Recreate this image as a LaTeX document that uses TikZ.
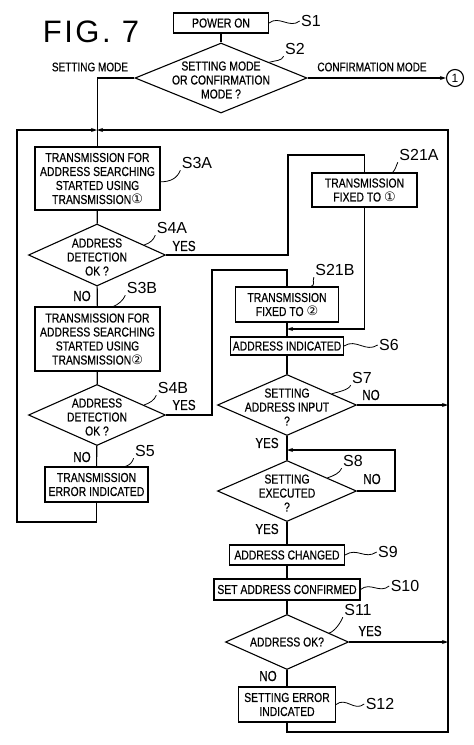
\documentclass[tikz,border=0pt]{standalone}
\usepackage{fontspec}
\setmainfont{Liberation Sans}
\newfontfamily\boxfont[FakeStretch=0.8,FakeBold=0.4]{Liberation Sans}
\newfontfamily\figfont[LetterSpace=8]{Liberation Sans}
\newfontfamily\circfont{DejaVu Sans}
\usetikzlibrary{shapes.geometric,arrows.meta,calc}

\newcommand{\cnum}[1]{{\circfont\fontsize{13}{13}\selectfont #1}}

\tikzset{
  box/.style={draw,rectangle,align=center,inner sep=0pt,
    font=\boxfont\fontsize{13}{14}\selectfont},
  decision/.style={draw,diamond,inner sep=0pt},
  txt/.style={align=center,inner sep=0pt,font=\boxfont\fontsize{13}{14}\selectfont},
  lbl/.style={inner sep=1pt,font=\fontsize{16}{16}\selectfont},
  yesno/.style={inner sep=0pt,font=\boxfont\fontsize{14.5}{15}\selectfont},
  leader/.style={line width=0.8pt},
  arr/.style={-{Stealth[length=6pt,width=4pt]}},
}

\begin{document}
\begin{tikzpicture}[x=1pt,y=-1pt,line width=1.1pt]
\useasboundingbox (0,0) rectangle (474,745);

\node[font=\figfont\fontsize{31}{31}\selectfont] (fig) at (91,32) {FIG. 7};

% process steps
\begin{scope}[every node/.style={box}]
  \node[minimum width=95,minimum height=20]  (s1)   at (221,23)    {POWER ON};
  \node[minimum width=125,minimum height=63] (s3a)  at (97.5,178.5)
    {TRANSMISSION FOR\\ADDRESS SEARCHING\\STARTED USING\\TRANSMISSION\cnum{①}};
  \node[minimum width=125,minimum height=64] (s3b)  at (97.5,339)
    {TRANSMISSION FOR\\ADDRESS SEARCHING\\STARTED USING\\TRANSMISSION\cnum{②}};
  \node[minimum width=103,minimum height=35] (s5)   at (96.5,484.5) {TRANSMISSION\\ERROR INDICATED};
  \node[minimum width=105,minimum height=34] (s21a) at (364.5,190)  {TRANSMISSION\\FIXED TO \cnum{①}};
  \node[minimum width=103,minimum height=35] (s21b) at (287,304.5)  {TRANSMISSION\\FIXED TO \cnum{②}};
  \node[minimum width=113,minimum height=18] (s6)   at (287,346)    {ADDRESS INDICATED};
  \node[minimum width=115,minimum height=20] (s9)   at (287,555)    {ADDRESS CHANGED};
  \node[minimum width=146,minimum height=21] (s10)  at (287,589.5)  {SET ADDRESS CONFIRMED};
  \node[minimum width=97,minimum height=35]  (s12)  at (287,704.5)  {SETTING ERROR\\INDICATED};
\end{scope}

% decisions
\begin{scope}[every node/.style={decision}]
  \node[minimum width=172,minimum height=70] (s2)  at (221,78)  {};
  \node[minimum width=137,minimum height=62] (s4a) at (97,255)  {};
  \node[minimum width=137,minimum height=61] (s4b) at (97,415)  {};
  \node[minimum width=139,minimum height=61] (s7)  at (287,405) {};
  \node[minimum width=139,minimum height=61] (s8)  at (287,491) {};
  \node[minimum width=123,minimum height=55] (s11) at (287,642) {};
\end{scope}

\begin{scope}[every node/.style={txt}]
  \node (s2t)  at (221,80)  {SETTING MODE\\OR CONFIRMATION\\MODE ?};
  \node (s4at) at (97,257)  {ADDRESS\\DETECTION\\OK ?};
  \node (s4bt) at (97,417)  {ADDRESS\\DETECTION\\OK ?};
  \node (s7t)  at (287,407) {SETTING\\ADDRESS INPUT\\?};
  \node (s8t)  at (287,493) {SETTING\\EXECUTED\\?};
  \node (s11t) at (287,642) {ADDRESS OK?};
\end{scope}

\node[draw,circle,minimum size=17,inner sep=0pt,font=\fontsize{12}{12}\selectfont] (c1) at (455,78) {1};

% step labels
\begin{scope}[every node/.style={lbl}]
  \node (s1lbl)   at (311,21)  {S1};
  \node (s2lbl)   at (295,49)  {S2};
  \node (s3albl)  at (197,163) {S3A};
  \node (s4albl)  at (172,228) {S4A};
  \node (s21albl) at (419,155) {S21A};
  \node (s3blbl)  at (142,288) {S3B};
  \node (s21blbl) at (335,270) {S21B};
  \node (s6lbl)   at (389,345) {S6};
  \node (s4blbl)  at (173,388) {S4B};
  \node (s7lbl)   at (362,378) {S7};
  \node (s5lbl)   at (145,451) {S5};
  \node (s8lbl)   at (353,461) {S8};
  \node (s9lbl)   at (388,552) {S9};
  \node (s10lbl)  at (405,586) {S10};
  \node (s11lbl)  at (358,610) {S11};
  \node (s12lbl)  at (380,704) {S12};
\end{scope}

\begin{scope}[every node/.style={yesno}]
  \node[font=\boxfont\fontsize{12.5}{13}\selectfont] (setmode)  at (90,67)  {SETTING MODE};
  \node[font=\boxfont\fontsize{12.5}{13}\selectfont] (confmode) at (372,67) {CONFIRMATION MODE};
  \node (yes4a) at (184,246) {YES};
  \node (no4a)  at (82,296)  {NO};
  \node (yes4b) at (184,405) {YES};
  \node (no4b)  at (82,457)  {NO};
  \node (no7)   at (371,395) {NO};
  \node (yes7)  at (267,443) {YES};
  \node (no8)   at (372,479) {NO};
  \node (yes8)  at (267,529) {YES};
  \node (yes11) at (370,631) {YES};
  \node (no11)  at (268,676) {NO};
\end{scope}

% corners of the return loops
\coordinate (top) at (97,130);
\coordinate (lb)  at (17,522);
\coordinate (rb)  at (448,732);
\coordinate (ya)  at (288,155);
\coordinate (yb)  at (212,270);
\coordinate (j6)  at (287,329);
\coordinate (n8)  at (395,450);
\coordinate (j8)  at (287,450);

% main flow
\draw (s1) -- (s2);
\draw (s2.west) -| (s3a.north);
\draw[arr] (s2.east) -- (c1);
\draw (s3a) -- (s4a);
\draw (s4a) -- (s3b);
\draw (s3b) -- (s4b);
\draw (s4b) -- (s5);
\draw (s4a.east) -| (ya) -| (s21a.north);
\draw (s4b.east) -| (yb) -| (s21b.north);
\draw[arr] (s21a.south) |- (j6);
\draw (s21b) -- (s6);
\draw (s6) -- (s7);
\draw (s7) -- (s8);
\draw (s8) -- (s9);
\draw (s9) -- (s10);
\draw (s10) -- (s11);
\draw (s11) -- (s12);
\draw[arr] (s8.east) -| (n8) -- (j8);
\draw[arr] (s7.east) -- (s7.east -| rb);
\draw[arr] (s11.east) -- (s11.east -| rb);
\draw[arr] (s5.south) |- (lb) |- (top);
\draw[arr] (s12.south) |- (rb) |- (top);

% leaders to the step labels
\begin{scope}[leader]
  \draw (s1.east) .. controls +(10,-8) and +(-10,8) .. (s1lbl.west);
  \draw (s6.east) .. controls +(12,-8) and +(-12,8) .. (s6lbl.west);
  \draw (s9.east) .. controls +(12,-8) and +(-12,8) .. (s9lbl.west);
  \draw (s10.east) .. controls +(10,-8) and +(-10,8) .. (s10lbl.west);
  \draw (s12.east) .. controls +(10,-8) and +(-10,8) .. (s12lbl.west);
  \draw (s2.18) .. controls +(6,-2) and +(-2,5) .. (s2lbl.south west);
  \draw (s3a.-3) .. controls +(10,0) and +(-3,8) .. (s3albl.south west);
  \draw (s4a.12) .. controls +(6,-2) and +(-2,5) .. (s4albl.south west);
  \draw (s21a.32) .. controls +(3,-3) and +(-2,4) .. (s21albl.south west);
  \draw (s3b.64) .. controls +(5,-2) and +(-2,5) .. (s3blbl.south west);
  \draw (s21b.37) .. controls +(5,-2) and +(-2,5) .. (s21blbl.south west);
  \draw (s4b.12) .. controls +(6,-2) and +(-2,5) .. (s4blbl.south west);
  \draw (s7.14) .. controls +(6,-2) and +(-2,5) .. (s7lbl.south west);
  \draw (s5.32) .. controls +(5,-2) and +(-2,5) .. (s5lbl.south west);
  \draw (s8.18) .. controls +(6,-2) and +(-2,5) .. (s8lbl.south west);
  \draw (s11.12) .. controls +(6,-2) and +(-2,5) .. (s11lbl.south west);
\end{scope}

\end{tikzpicture}
\end{document}
